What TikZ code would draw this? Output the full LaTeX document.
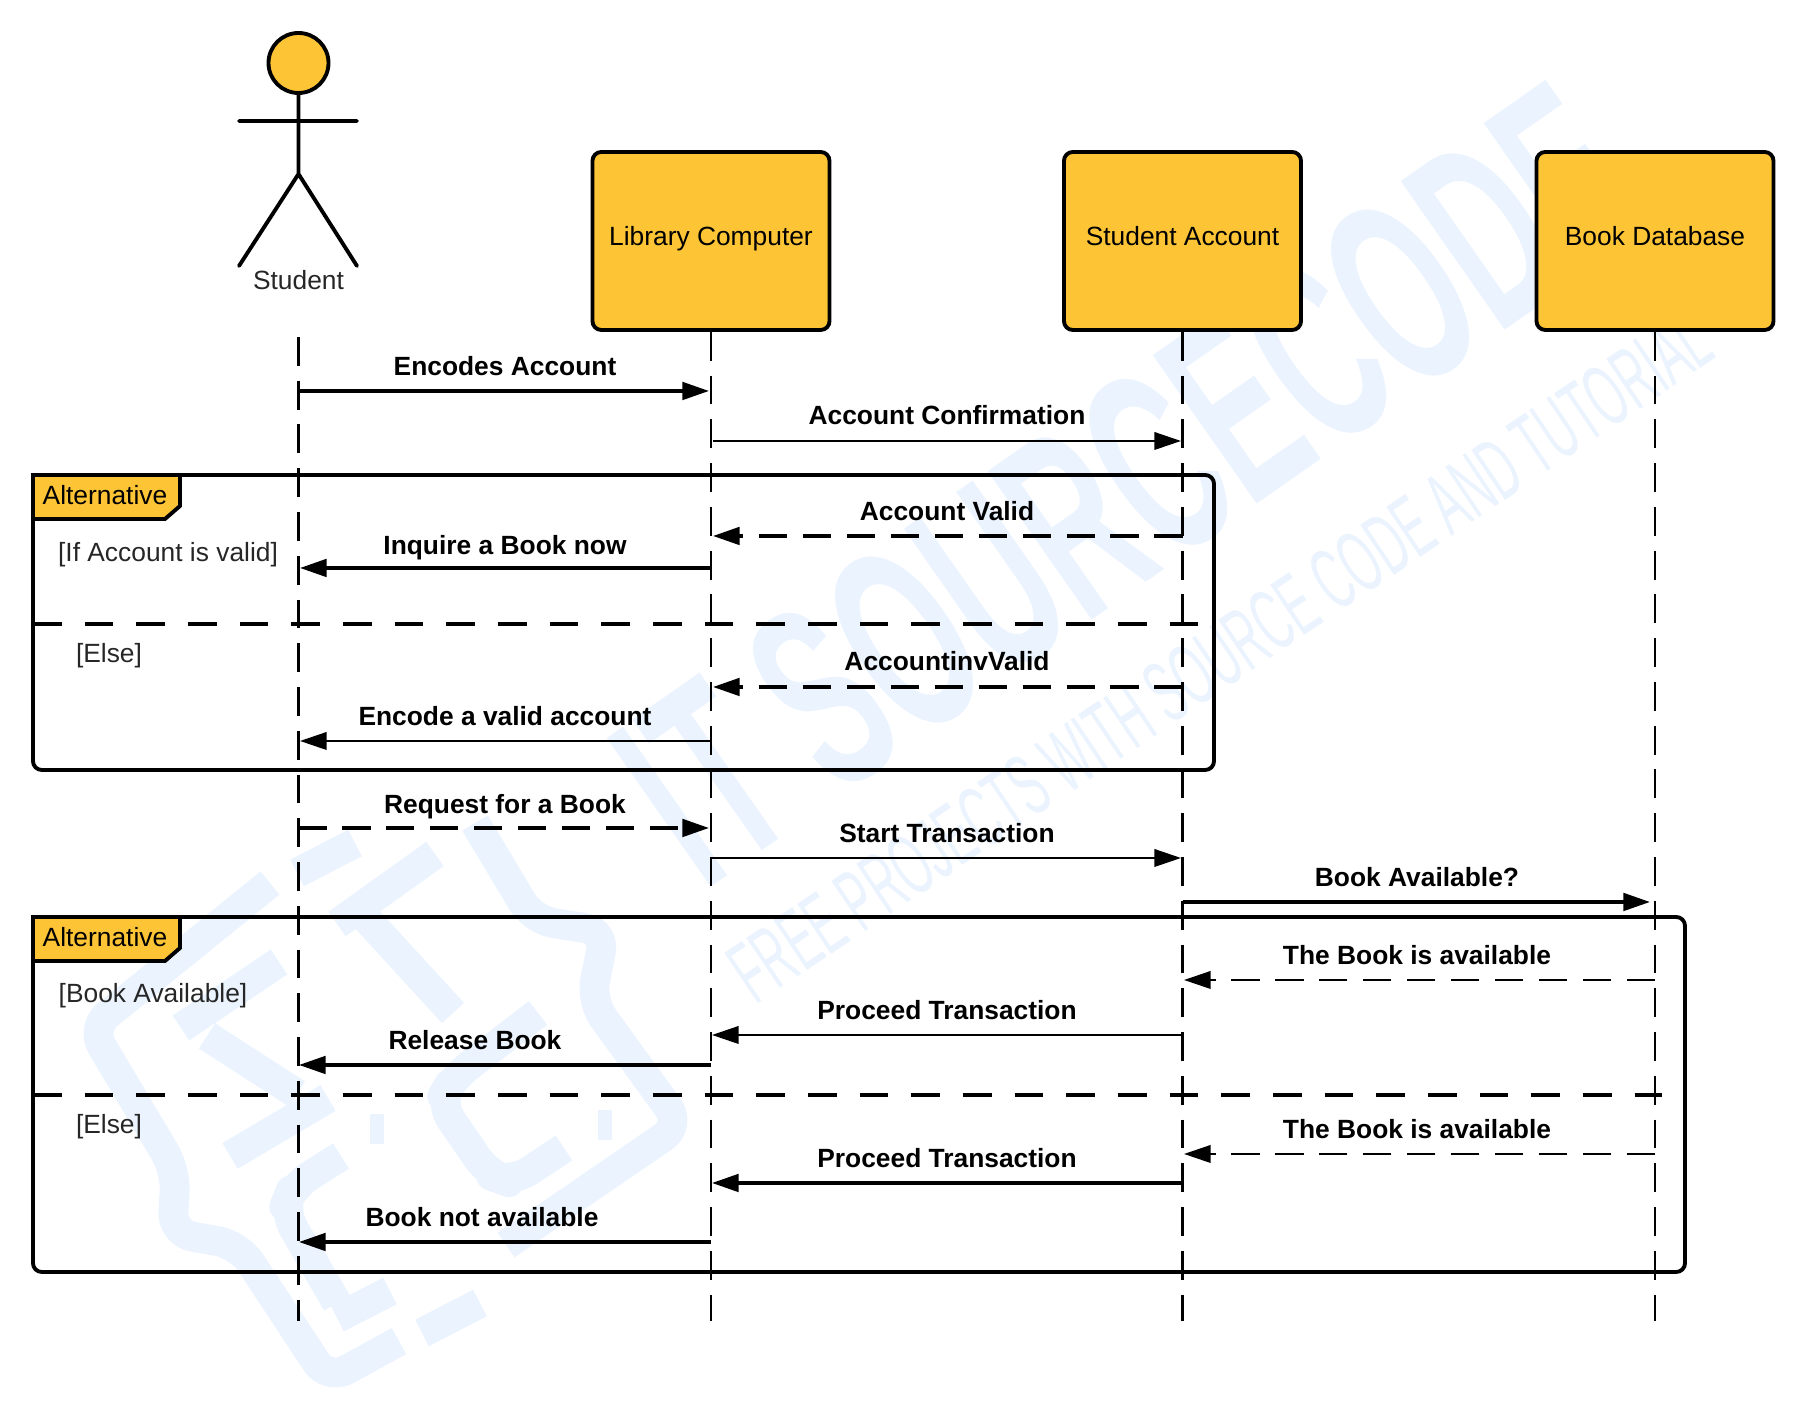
\documentclass[tikz,border=0pt]{standalone}
\usepackage{fontspec}
\setmainfont{Liberation Sans}
\usetikzlibrary{arrows.meta}

\definecolor{boxyellow}{HTML}{FDC536}
\definecolor{markblue}{HTML}{EAF3FE}

\tikzset{
  lifebox/.style={draw, fill=boxyellow, line width=1.1pt, rounded corners=2.5pt, minimum width=2.37cm, minimum height=1.78cm, inner sep=0pt, text height=6pt, text depth=3.2pt, font=\fontsize{7.5}{9}\selectfont},
  plain/.style={font=\fontsize{7.5}{9}\selectfont, text=black!85},
  msg/.style={font=\fontsize{7.5}{9}\selectfont\bfseries},
  lifeline/.style={line width=0.8pt, dash pattern=on 8.2pt off 4.25pt},
  divider/.style={line width=1.1pt, dash pattern=on 8.2pt off 6.5pt},
  frame/.style={line width=1.1pt, rounded corners=2.5pt},
  tab/.style={draw, fill=boxyellow, line width=1.1pt},
  thickmsg/.style={line width=0.95pt, -{Triangle[length=7.6pt,width=5pt]}},
  thinmsg/.style={line width=0.6pt, -{Triangle[length=7.6pt,width=5pt]}},
  dashmsg/.style={line width=0.95pt, dash pattern=on 8pt off 4.5pt, -{Triangle[length=7.6pt,width=5pt]}},
  thindash/.style={line width=0.6pt, dash pattern=on 8pt off 4.5pt, -{Triangle[length=7.6pt,width=5pt]}},
  markline/.style={draw=markblue, line width=8.5pt, line join=round, rounded corners=6pt},
  marktext/.style={text=markblue}
}

\begin{document}
\begin{tikzpicture}
\useasboundingbox (0,0) rectangle (18,14.06);

% faint mark behind the diagram
\draw[markline] (2.70,5.23) -- (0.91,3.78) -- (1.76,2.35) -- (1.72,1.73) -- (2.39,1.61) -- (3.28,0.26) -- (3.99,0.65);
\draw[markline] (4.75,5.83) -- (5.33,4.86) -- (6.05,4.75) -- (5.91,4.05) -- (6.81,2.81) -- (5.06,1.61);
\draw[markline] (4.35,5.52) -- (3.37,4.82) (3.64,4.90) -- (4.53,3.93) (3.55,5.63) -- (2.97,5.33);
\draw[markline] (2.79,4.44) -- (1.81,3.78) (2.07,3.70) -- (2.97,3.12) (3.28,3.08) -- (2.30,2.50);
\draw[markline] (3.41,2.50) -- (2.92,2.19) -- (2.83,1.96) -- (3.37,1.03) (3.90,1.15) -- (3.37,0.88) (4.80,1.03) -- (4.22,0.73);
\draw[markline] (5.64,2.58) -- (5.11,2.23) -- (4.89,2.31) -- (4.39,3.04) -- (4.53,3.28) -- (5.38,3.93);
\draw[markline] (3.70,2.77) -- (3.84,2.77) (5.98,2.81) -- (6.12,2.81);
\node[marktext, rotate=35, font=\fontsize{75}{80}\selectfont\bfseries, xscale=0.53] (markname) at (11.28,9.22) {IT SOURCECODE};
\node[marktext, rotate=34, font=\fontsize{25}{28}\selectfont, xscale=0.5] (markline) at (12.20,7.50) {FREE PROJECTS WITH SOURCE CODE AND TUTORIAL};

% student figure
\draw[line width=1.1pt, fill=boxyellow] (2.985,13.43) circle (0.30cm);
\draw[line width=1.1pt, line cap=round] (2.985,13.13) -- (2.985,12.32) (2.39,12.85) -- (3.57,12.85) (2.39,11.40) -- (2.985,12.32) -- (3.57,11.40);
\node[plain] (student) at (2.985,11.26) {Student};

% boxes
\node[lifebox] (library) at (7.11,11.65) {Library Computer};
\node[lifebox] (account) at (11.825,11.65) {Student Account};
\node[lifebox] (database) at (16.55,11.65) {Book Database};

% life lines
\coordinate (studenttop) at (2.985,10.69);
\coordinate (studentend) at (2.985,0.85);
\coordinate (libraryend) at (7.11,0.85);
\coordinate (accountend) at (11.825,0.85);
\coordinate (databaseend) at (16.55,0.85);
\draw[lifeline] (studenttop) -- (studentend);
\draw[lifeline] (library.south) -- (libraryend);
\draw[lifeline] (account.south) -- (accountend);
\draw[lifeline] (database.south) -- (databaseend);

% first frame
\draw[frame] (0.33,9.31) rectangle (12.14,6.36);
\filldraw[tab] (0.33,9.31) -- (1.80,9.31) -- (1.80,9.00) -- (1.65,8.87) -- (0.33,8.87) -- cycle;
\node[plain, text=black] (altone) at (1.05,9.11) {Alternative};
\node[plain] (ifvalid) at (1.68,8.515) {[If Account is valid]};
\node[plain] (elseone) at (1.09,7.50) {[Else]};
\coordinate (splitoneA) at (0.33,7.82);
\coordinate (splitoneB) at (11.98,7.82);
\draw[divider] (splitoneA) -- (splitoneB);

% second frame
\draw[frame] (0.33,4.89) rectangle (16.85,1.34);
\filldraw[tab] (0.33,4.89) -- (1.80,4.89) -- (1.80,4.58) -- (1.65,4.45) -- (0.33,4.45) -- cycle;
\node[plain, text=black] (alttwo) at (1.05,4.69) {Alternative};
\node[plain] (bookok) at (1.53,4.10) {[Book Available]};
\node[plain] (elsetwo) at (1.09,2.79) {[Else]};
\coordinate (splittwoA) at (0.33,3.11);
\coordinate (splittwoB) at (16.62,3.11);
\draw[divider] (splittwoA) -- (splittwoB);

% messages
\coordinate (encodesA) at (2.985,10.15); \coordinate (encodesB) at (7.09,10.15);
\draw[thickmsg] (encodesA) -- (encodesB);
\node[msg] (encodes) at (5.05,10.40) {Encodes Account};

\coordinate (confirmA) at (7.13,9.65); \coordinate (confirmB) at (11.81,9.65);
\draw[thinmsg] (confirmA) -- (confirmB);
\node[msg] (confirm) at (9.47,9.91) {Account Confirmation};

\coordinate (validA) at (11.825,8.70); \coordinate (validB) at (7.13,8.70);
\draw[dashmsg] (validA) -- (validB);
\node[msg] (valid) at (9.47,8.95) {Account Valid};

\coordinate (inquireA) at (7.11,8.38); \coordinate (inquireB) at (3.00,8.38);
\draw[thickmsg] (inquireA) -- (inquireB);
\node[msg] (inquire) at (5.05,8.585) {Inquire a Book now};

\coordinate (invalidA) at (11.825,7.19); \coordinate (invalidB) at (7.13,7.19);
\draw[dashmsg] (invalidA) -- (invalidB);
\node[msg] (invalid) at (9.47,7.45) {AccountinvValid};

\coordinate (encodeA) at (7.11,6.65); \coordinate (encodeB) at (3.00,6.65);
\draw[thinmsg] (encodeA) -- (encodeB);
\node[msg] (encode) at (5.05,6.90) {Encode a valid account};

\coordinate (requestA) at (2.985,5.78); \coordinate (requestB) at (7.09,5.78);
\draw[dashmsg] (requestA) -- (requestB);
\node[msg] (request) at (5.05,5.99) {Request for a Book};

\coordinate (startA) at (7.11,5.48); \coordinate (startB) at (11.81,5.48);
\draw[thinmsg] (startA) -- (startB);
\node[msg] (start) at (9.47,5.73) {Start Transaction};

\coordinate (askA) at (11.825,5.04); \coordinate (askB) at (16.50,5.04);
\draw[thickmsg] (askA) -- (askB);
\node[msg] (ask) at (14.17,5.29) {Book Available?};

\coordinate (hasA) at (16.55,4.26); \coordinate (hasB) at (11.84,4.26);
\draw[thindash] (hasA) -- (hasB);
\node[msg] (has) at (14.17,4.51) {The Book is available};

\coordinate (proceedA) at (11.825,3.71); \coordinate (proceedB) at (7.12,3.71);
\draw[thinmsg] (proceedA) -- (proceedB);
\node[msg] (proceed) at (9.47,3.96) {Proceed Transaction};

\coordinate (releaseA) at (7.11,3.41); \coordinate (releaseB) at (2.99,3.41);
\draw[thickmsg] (releaseA) -- (releaseB);
\node[msg] (release) at (4.75,3.66) {Release Book};

\coordinate (hasagainA) at (16.55,2.52); \coordinate (hasagainB) at (11.84,2.52);
\draw[thindash] (hasagainA) -- (hasagainB);
\node[msg] (hasagain) at (14.17,2.77) {The Book is available};

\coordinate (proceedagainA) at (11.825,2.23); \coordinate (proceedagainB) at (7.12,2.23);
\draw[thickmsg] (proceedagainA) -- (proceedagainB);
\node[msg] (proceedagain) at (9.47,2.48) {Proceed Transaction};

\coordinate (missingA) at (7.11,1.64); \coordinate (missingB) at (2.99,1.64);
\draw[thickmsg] (missingA) -- (missingB);
\node[msg] (missing) at (4.82,1.89) {Book not available};
\end{tikzpicture}
\end{document}
